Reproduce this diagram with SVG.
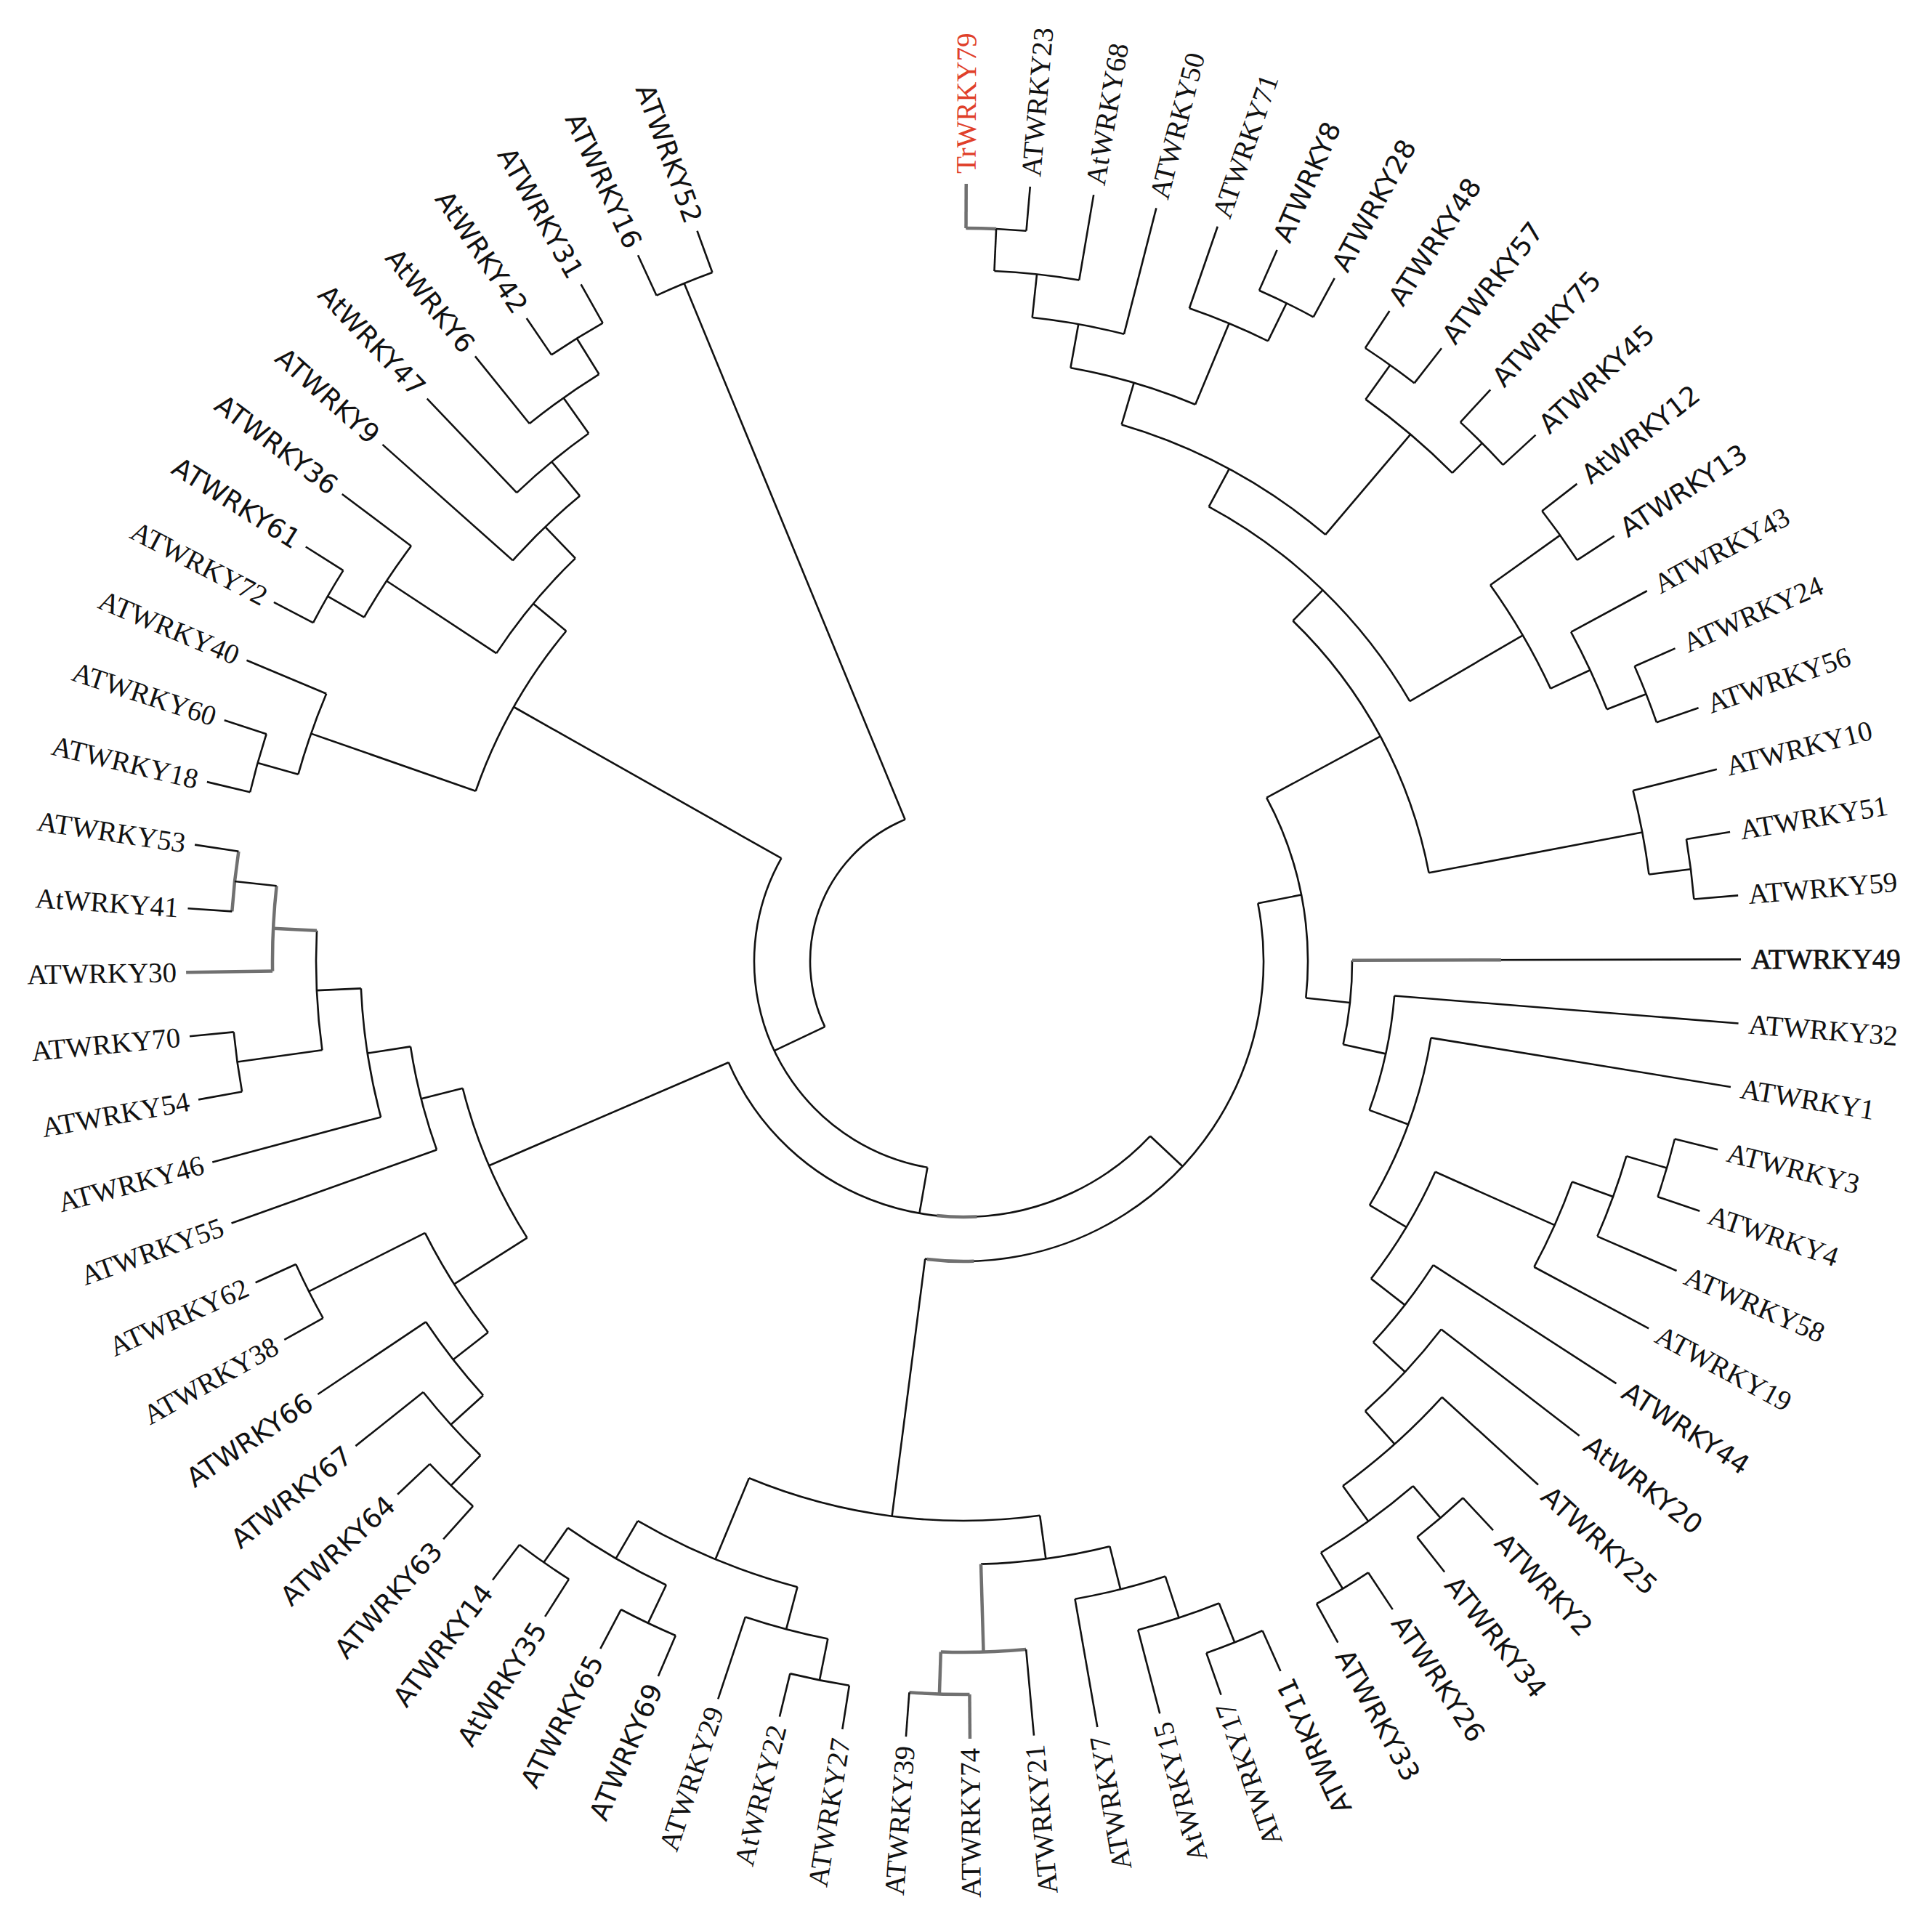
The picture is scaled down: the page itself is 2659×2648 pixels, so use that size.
<svg xmlns="http://www.w3.org/2000/svg" width="2659" height="2648" viewBox="0 0 2659 2648">
<style>
#connectors line,#connectors circle{fill:none;stroke:#111;stroke-width:2.6}
#connectors .g{stroke:#707070;stroke-width:4.5}
text{font-size:39px;fill:#111}
.r{font-family:"Liberation Serif","Times New Roman",serif}
.s{font-family:"DejaVu Sans",Verdana,sans-serif;font-size:37px}
.f{text-anchor:end}
.red{fill:#e0402a}
.b{stroke:#111;stroke-width:0.7}
</style>
<rect width="2659" height="2648" fill="#fff"/>
<g transform="translate(1326 1323)">
<g id="connectors">
<circle r="1009" stroke-dasharray="83.12 99999" transform="rotate(-89.8)"/>
<circle class="g" r="1009" stroke-dasharray="41.6 99999" transform="rotate(-89.8)"/>
<line class="g" x1="1009" x2="1070" transform="rotate(-89.8)"/>
<line x1="1009" x2="1070" transform="rotate(-85.08)"/>
<circle r="951" stroke-dasharray="117.51 99999" transform="rotate(-87.44)"/>
<line x1="951" x2="1009" transform="rotate(-87.44)"/>
<line x1="951" x2="1070" transform="rotate(-80.36)"/>
<circle r="891" stroke-dasharray="128.45 99999" transform="rotate(-83.9)"/>
<line x1="891" x2="951" transform="rotate(-83.9)"/>
<line x1="891" x2="1070" transform="rotate(-75.64)"/>
<circle r="1009" stroke-dasharray="83.12 99999" transform="rotate(-66.21)"/>
<line x1="1009" x2="1070" transform="rotate(-66.21)"/>
<line x1="1009" x2="1070" transform="rotate(-61.49)"/>
<circle r="951" stroke-dasharray="117.35 99999" transform="rotate(-70.92)"/>
<line x1="951" x2="1070" transform="rotate(-70.92)"/>
<line x1="951" x2="1009" transform="rotate(-63.85)"/>
<circle r="830" stroke-dasharray="179.34 99999" transform="rotate(-79.77)"/>
<line x1="830" x2="891" transform="rotate(-79.77)"/>
<line x1="830" x2="951" transform="rotate(-67.39)"/>
<circle r="1009" stroke-dasharray="83.12 99999" transform="rotate(-56.77)"/>
<line x1="1009" x2="1070" transform="rotate(-56.77)"/>
<line x1="1009" x2="1070" transform="rotate(-52.05)"/>
<circle r="1009" stroke-dasharray="83.12 99999" transform="rotate(-47.33)"/>
<line x1="1009" x2="1070" transform="rotate(-47.33)"/>
<line x1="1009" x2="1070" transform="rotate(-42.61)"/>
<circle r="951" stroke-dasharray="156.69 99999" transform="rotate(-54.41)"/>
<line x1="951" x2="1009" transform="rotate(-54.41)"/>
<line x1="951" x2="1009" transform="rotate(-44.97)"/>
<circle r="770" stroke-dasharray="321.06 99999" transform="rotate(-73.58)"/>
<line x1="770" x2="830" transform="rotate(-73.58)"/>
<line x1="770" x2="951" transform="rotate(-49.69)"/>
<circle r="1009" stroke-dasharray="83.12 99999" transform="rotate(-37.89)"/>
<line x1="1009" x2="1070" transform="rotate(-37.89)"/>
<line x1="1009" x2="1070" transform="rotate(-33.17)"/>
<circle r="1009" stroke-dasharray="82.94 99999" transform="rotate(-23.73)"/>
<line x1="1009" x2="1070" transform="rotate(-23.73)"/>
<line x1="1009" x2="1070" transform="rotate(-19.02)"/>
<circle r="951" stroke-dasharray="117.35 99999" transform="rotate(-28.45)"/>
<line x1="951" x2="1070" transform="rotate(-28.45)"/>
<line x1="951" x2="1009" transform="rotate(-21.38)"/>
<circle r="891" stroke-dasharray="165 99999" transform="rotate(-35.53)"/>
<line x1="891" x2="1009" transform="rotate(-35.53)"/>
<line x1="891" x2="951" transform="rotate(-24.92)"/>
<circle r="711" stroke-dasharray="389.78 99999" transform="rotate(-61.64)"/>
<line x1="711" x2="770" transform="rotate(-61.64)"/>
<line x1="711" x2="891" transform="rotate(-30.23)"/>
<circle r="1009" stroke-dasharray="83.12 99999" transform="rotate(-9.58)"/>
<line x1="1009" x2="1070" transform="rotate(-9.58)"/>
<line x1="1009" x2="1070" transform="rotate(-4.86)"/>
<circle r="951" stroke-dasharray="117.51 99999" transform="rotate(-14.3)"/>
<line x1="951" x2="1070" transform="rotate(-14.3)"/>
<line x1="951" x2="1009" transform="rotate(-7.22)"/>
<circle r="652" stroke-dasharray="400.33 99999" transform="rotate(-45.94)"/>
<line x1="652" x2="711" transform="rotate(-45.94)"/>
<line x1="652" x2="951" transform="rotate(-10.76)"/>
<circle r="1009" stroke-dasharray="83.12 99999" transform="rotate(14.02)"/>
<line x1="1009" x2="1070" transform="rotate(14.02)"/>
<line x1="1009" x2="1070" transform="rotate(18.74)"/>
<circle r="951" stroke-dasharray="117.51 99999" transform="rotate(16.38)"/>
<line x1="951" x2="1009" transform="rotate(16.38)"/>
<line x1="951" x2="1070" transform="rotate(23.46)"/>
<circle r="891" stroke-dasharray="128.45 99999" transform="rotate(19.92)"/>
<line x1="891" x2="951" transform="rotate(19.92)"/>
<line x1="891" x2="1070" transform="rotate(28.18)"/>
<circle r="1009" stroke-dasharray="83.12 99999" transform="rotate(47.05)"/>
<line x1="1009" x2="1070" transform="rotate(47.05)"/>
<line x1="1009" x2="1070" transform="rotate(51.77)"/>
<circle r="1009" stroke-dasharray="83.12 99999" transform="rotate(56.49)"/>
<line x1="1009" x2="1070" transform="rotate(56.49)"/>
<line x1="1009" x2="1070" transform="rotate(61.21)"/>
<circle r="951" stroke-dasharray="156.69 99999" transform="rotate(49.41)"/>
<line x1="951" x2="1009" transform="rotate(49.41)"/>
<line x1="951" x2="1009" transform="rotate(58.85)"/>
<circle r="891" stroke-dasharray="183.5 99999" transform="rotate(42.33)"/>
<line x1="891" x2="1070" transform="rotate(42.33)"/>
<line x1="891" x2="951" transform="rotate(54.13)"/>
<circle r="830" stroke-dasharray="153.84 99999" transform="rotate(37.61)"/>
<line x1="830" x2="1070" transform="rotate(37.61)"/>
<line x1="830" x2="891" transform="rotate(48.23)"/>
<circle r="770" stroke-dasharray="134.79 99999" transform="rotate(32.89)"/>
<line x1="770" x2="1070" transform="rotate(32.89)"/>
<line x1="770" x2="830" transform="rotate(42.92)"/>
<circle r="711" stroke-dasharray="171.99 99999" transform="rotate(24.05)"/>
<line x1="711" x2="891" transform="rotate(24.05)"/>
<line x1="711" x2="770" transform="rotate(37.91)"/>
<circle r="652" stroke-dasharray="246.71 99999" transform="rotate(9.3)"/>
<line x1="652" x2="1070" transform="rotate(9.3)"/>
<line x1="652" x2="711" transform="rotate(30.98)"/>
<circle r="595" stroke-dasharray="161.59 99999" transform="rotate(4.58)"/>
<line x1="595" x2="1070" transform="rotate(4.58)"/>
<line x1="595" x2="652" transform="rotate(20.14)"/>
<circle r="535" stroke-dasharray="116.72 99999" transform="rotate(-0.14)"/>
<line x1="535" x2="1070" transform="rotate(-0.14)"/>
<line class="g" x1="535" x2="740" transform="rotate(-0.14)"/>
<line x1="535" x2="595" transform="rotate(12.36)"/>
<circle r="474" stroke-dasharray="285.08 99999" transform="rotate(-28.35)"/>
<line x1="474" x2="652" transform="rotate(-28.35)"/>
<line x1="474" x2="535" transform="rotate(6.11)"/>
<circle r="1009" stroke-dasharray="83.12 99999" transform="rotate(65.93)"/>
<line x1="1009" x2="1070" transform="rotate(65.93)"/>
<line x1="1009" x2="1070" transform="rotate(70.65)"/>
<circle r="951" stroke-dasharray="117.51 99999" transform="rotate(68.29)"/>
<line x1="951" x2="1009" transform="rotate(68.29)"/>
<line x1="951" x2="1070" transform="rotate(75.37)"/>
<circle r="891" stroke-dasharray="128.3 99999" transform="rotate(71.83)"/>
<line x1="891" x2="951" transform="rotate(71.83)"/>
<line x1="891" x2="1070" transform="rotate(80.08)"/>
<circle class="g" r="1009" stroke-dasharray="83.12 99999" transform="rotate(89.52)"/>
<line class="g" x1="1009" x2="1070" transform="rotate(89.52)"/>
<line x1="1009" x2="1070" transform="rotate(94.24)"/>
<circle class="g" r="951" stroke-dasharray="117.51 99999" transform="rotate(84.8)"/>
<line x1="951" x2="1070" transform="rotate(84.8)"/>
<line class="g" x1="951" x2="1009" transform="rotate(91.88)"/>
<circle r="830" stroke-dasharray="179.34 99999" transform="rotate(75.96)"/>
<line x1="830" x2="891" transform="rotate(75.96)"/>
<line class="g" x1="830" x2="951" transform="rotate(88.34)"/>
<circle r="1009" stroke-dasharray="83.12 99999" transform="rotate(98.96)"/>
<line x1="1009" x2="1070" transform="rotate(98.96)"/>
<line x1="1009" x2="1070" transform="rotate(103.68)"/>
<circle r="951" stroke-dasharray="117.51 99999" transform="rotate(101.32)"/>
<line x1="951" x2="1009" transform="rotate(101.32)"/>
<line x1="951" x2="1070" transform="rotate(108.4)"/>
<circle r="1009" stroke-dasharray="83.12 99999" transform="rotate(113.12)"/>
<line x1="1009" x2="1070" transform="rotate(113.12)"/>
<line x1="1009" x2="1070" transform="rotate(117.84)"/>
<circle r="1009" stroke-dasharray="82.94 99999" transform="rotate(122.56)"/>
<line x1="1009" x2="1070" transform="rotate(122.56)"/>
<line x1="1009" x2="1070" transform="rotate(127.27)"/>
<circle r="951" stroke-dasharray="156.69 99999" transform="rotate(115.48)"/>
<line x1="951" x2="1009" transform="rotate(115.48)"/>
<line x1="951" x2="1009" transform="rotate(124.92)"/>
<circle r="891" stroke-dasharray="238.55 99999" transform="rotate(104.86)"/>
<line x1="891" x2="951" transform="rotate(104.86)"/>
<line x1="891" x2="951" transform="rotate(120.2)"/>
<circle r="770" stroke-dasharray="408.28 99999" transform="rotate(82.15)"/>
<line x1="770" x2="830" transform="rotate(82.15)"/>
<line x1="770" x2="891" transform="rotate(112.53)"/>
<circle r="413" stroke-dasharray="781.8 99999" transform="rotate(-11.12)"/>
<circle class="g" r="413" stroke-dasharray="64.9 99999" transform="rotate(88)"/>
<line x1="413" x2="474" transform="rotate(-11.12)"/>
<line x1="413" x2="770" transform="rotate(97.34)"/>
<circle r="1009" stroke-dasharray="83.12 99999" transform="rotate(131.99)"/>
<line x1="1009" x2="1070" transform="rotate(131.99)"/>
<line x1="1009" x2="1070" transform="rotate(136.71)"/>
<circle r="951" stroke-dasharray="117.51 99999" transform="rotate(134.35)"/>
<line x1="951" x2="1009" transform="rotate(134.35)"/>
<line x1="951" x2="1070" transform="rotate(141.43)"/>
<circle r="891" stroke-dasharray="128.45 99999" transform="rotate(137.89)"/>
<line x1="891" x2="951" transform="rotate(137.89)"/>
<line x1="891" x2="1070" transform="rotate(146.15)"/>
<circle r="1009" stroke-dasharray="83.12 99999" transform="rotate(150.87)"/>
<line x1="1009" x2="1070" transform="rotate(150.87)"/>
<line x1="1009" x2="1070" transform="rotate(155.59)"/>
<circle r="830" stroke-dasharray="162.39 99999" transform="rotate(142.02)"/>
<line x1="830" x2="891" transform="rotate(142.02)"/>
<line x1="830" x2="1009" transform="rotate(153.23)"/>
<circle r="1009" stroke-dasharray="82.94 99999" transform="rotate(169.75)"/>
<line x1="1009" x2="1070" transform="rotate(169.75)"/>
<line x1="1009" x2="1070" transform="rotate(174.46)"/>
<circle class="g" r="1009" stroke-dasharray="83.12 99999" transform="rotate(183.9)"/>
<line x1="1009" x2="1070" transform="rotate(183.9)"/>
<line x1="1009" x2="1070" transform="rotate(188.62)"/>
<circle class="g" r="951" stroke-dasharray="117.51 99999" transform="rotate(179.18)"/>
<line class="g" x1="951" x2="1070" transform="rotate(179.18)"/>
<line x1="951" x2="1009" transform="rotate(186.26)"/>
<circle r="891" stroke-dasharray="165 99999" transform="rotate(172.11)"/>
<line x1="891" x2="1009" transform="rotate(172.11)"/>
<line class="g" x1="891" x2="951" transform="rotate(182.72)"/>
<circle r="830" stroke-dasharray="179.48 99999" transform="rotate(165.03)"/>
<line x1="830" x2="1070" transform="rotate(165.03)"/>
<line x1="830" x2="891" transform="rotate(177.42)"/>
<circle r="770" stroke-dasharray="146.75 99999" transform="rotate(160.31)"/>
<line x1="770" x2="1070" transform="rotate(160.31)"/>
<line x1="770" x2="830" transform="rotate(171.23)"/>
<circle r="711" stroke-dasharray="225.1 99999" transform="rotate(147.63)"/>
<line x1="711" x2="830" transform="rotate(147.63)"/>
<line x1="711" x2="770" transform="rotate(165.77)"/>
<circle r="352" stroke-dasharray="697.85 99999" transform="rotate(43.11)"/>
<circle class="g" r="352" stroke-dasharray="55.3 99999" transform="rotate(87)"/>
<line x1="352" x2="413" transform="rotate(43.11)"/>
<line x1="352" x2="711" transform="rotate(156.7)"/>
<circle r="1009" stroke-dasharray="83.12 99999" transform="rotate(193.34)"/>
<line x1="1009" x2="1070" transform="rotate(193.34)"/>
<line x1="1009" x2="1070" transform="rotate(198.06)"/>
<circle r="951" stroke-dasharray="117.51 99999" transform="rotate(195.7)"/>
<line x1="951" x2="1009" transform="rotate(195.7)"/>
<line x1="951" x2="1070" transform="rotate(202.78)"/>
<circle r="1009" stroke-dasharray="83.12 99999" transform="rotate(207.5)"/>
<line x1="1009" x2="1070" transform="rotate(207.5)"/>
<line x1="1009" x2="1070" transform="rotate(212.22)"/>
<circle r="951" stroke-dasharray="117.51 99999" transform="rotate(209.86)"/>
<line x1="951" x2="1009" transform="rotate(209.86)"/>
<line x1="951" x2="1070" transform="rotate(216.94)"/>
<circle r="1009" stroke-dasharray="83.12 99999" transform="rotate(235.81)"/>
<line x1="1009" x2="1070" transform="rotate(235.81)"/>
<line x1="1009" x2="1070" transform="rotate(240.53)"/>
<circle r="951" stroke-dasharray="117.51 99999" transform="rotate(231.09)"/>
<line x1="951" x2="1070" transform="rotate(231.09)"/>
<line x1="951" x2="1009" transform="rotate(238.17)"/>
<circle r="891" stroke-dasharray="128.45 99999" transform="rotate(226.37)"/>
<line x1="891" x2="1070" transform="rotate(226.37)"/>
<line x1="891" x2="951" transform="rotate(234.63)"/>
<circle r="830" stroke-dasharray="128.2 99999" transform="rotate(221.65)"/>
<line x1="830" x2="1070" transform="rotate(221.65)"/>
<line x1="830" x2="891" transform="rotate(230.5)"/>
<circle r="770" stroke-dasharray="170.41 99999" transform="rotate(213.4)"/>
<line x1="770" x2="951" transform="rotate(213.4)"/>
<line x1="770" x2="830" transform="rotate(226.08)"/>
<circle r="711" stroke-dasharray="254.39 99999" transform="rotate(199.24)"/>
<line x1="711" x2="951" transform="rotate(199.24)"/>
<line x1="711" x2="770" transform="rotate(219.74)"/>
<circle r="288" stroke-dasharray="550.81 99999" transform="rotate(99.91)"/>
<line x1="288" x2="352" transform="rotate(99.91)"/>
<line x1="288" x2="711" transform="rotate(209.49)"/>
<circle r="1009" stroke-dasharray="83.12 99999" transform="rotate(245.25)"/>
<line x1="1009" x2="1070" transform="rotate(245.25)"/>
<line x1="1009" x2="1070" transform="rotate(249.97)"/>
<circle r="211" stroke-dasharray="342.15 99999" transform="rotate(154.7)"/>
<line x1="211" x2="288" transform="rotate(154.7)"/>
<line x1="211" x2="1009" transform="rotate(247.61)"/>
</g>
<g id="n-TrWRKY79"><text class="r red" transform="rotate(-89.8)" x="1084" y="13">TrWRKY79</text></g>
<g id="n-ATWRKY23"><text class="r" transform="rotate(-85.08)" x="1084" y="13">ATWRKY23</text></g>
<g id="n-AtWRKY68"><text class="r" transform="rotate(-80.36)" x="1084" y="13">AtWRKY68</text></g>
<g id="n-ATWRKY50"><text class="r" transform="rotate(-75.64)" x="1084" y="13">ATWRKY50</text></g>
<g id="n-ATWRKY71"><text class="r" transform="rotate(-70.92)" x="1084" y="13">ATWRKY71</text></g>
<g id="n-ATWRKY8"><text class="s" transform="rotate(-66.21)" x="1084" y="13">ATWRKY8</text></g>
<g id="n-ATWRKY28"><text class="s" transform="rotate(-61.49)" x="1084" y="13">ATWRKY28</text></g>
<g id="n-ATWRKY48"><text class="s" transform="rotate(-56.77)" x="1084" y="13">ATWRKY48</text></g>
<g id="n-ATWRKY57"><text class="s" transform="rotate(-52.05)" x="1084" y="13">ATWRKY57</text></g>
<g id="n-ATWRKY75"><text class="s" transform="rotate(-47.33)" x="1084" y="13">ATWRKY75</text></g>
<g id="n-ATWRKY45"><text class="s" transform="rotate(-42.61)" x="1084" y="13">ATWRKY45</text></g>
<g id="n-AtWRKY12"><text class="s" transform="rotate(-37.89)" x="1084" y="13">AtWRKY12</text></g>
<g id="n-ATWRKY13"><text class="s" transform="rotate(-33.17)" x="1084" y="13">ATWRKY13</text></g>
<g id="n-ATWRKY43"><text class="r" transform="rotate(-28.45)" x="1084" y="13">ATWRKY43</text></g>
<g id="n-ATWRKY24"><text class="r" transform="rotate(-23.73)" x="1084" y="13">ATWRKY24</text></g>
<g id="n-ATWRKY56"><text class="r" transform="rotate(-19.02)" x="1084" y="13">ATWRKY56</text></g>
<g id="n-ATWRKY10"><text class="r" transform="rotate(-14.3)" x="1084" y="13">ATWRKY10</text></g>
<g id="n-ATWRKY51"><text class="r" transform="rotate(-9.58)" x="1084" y="13">ATWRKY51</text></g>
<g id="n-ATWRKY59"><text class="r" transform="rotate(-4.86)" x="1084" y="13">ATWRKY59</text></g>
<g id="n-ATWRKY49"><text class="r b" transform="rotate(-0.14)" x="1084" y="13">ATWRKY49</text></g>
<g id="n-ATWRKY32"><text class="r" transform="rotate(4.58)" x="1084" y="13">ATWRKY32</text></g>
<g id="n-ATWRKY1"><text class="r" transform="rotate(9.3)" x="1084" y="13">ATWRKY1</text></g>
<g id="n-ATWRKY3"><text class="r" transform="rotate(14.02)" x="1084" y="13">ATWRKY3</text></g>
<g id="n-ATWRKY4"><text class="r" transform="rotate(18.74)" x="1084" y="13">ATWRKY4</text></g>
<g id="n-ATWRKY58"><text class="r" transform="rotate(23.46)" x="1084" y="13">ATWRKY58</text></g>
<g id="n-ATWRKY19"><text class="r" transform="rotate(28.18)" x="1084" y="13">ATWRKY19</text></g>
<g id="n-ATWRKY44"><text class="s" transform="rotate(32.89)" x="1084" y="13">ATWRKY44</text></g>
<g id="n-AtWRKY20"><text class="s" transform="rotate(37.61)" x="1084" y="13">AtWRKY20</text></g>
<g id="n-ATWRKY25"><text class="s" transform="rotate(42.33)" x="1084" y="13">ATWRKY25</text></g>
<g id="n-ATWRKY2"><text class="s" transform="rotate(47.05)" x="1084" y="13">ATWRKY2</text></g>
<g id="n-ATWRKY34"><text class="s" transform="rotate(51.77)" x="1084" y="13">ATWRKY34</text></g>
<g id="n-ATWRKY26"><text class="s" transform="rotate(56.49)" x="1084" y="13">ATWRKY26</text></g>
<g id="n-ATWRKY33"><text class="s" transform="rotate(61.21)" x="1084" y="13">ATWRKY33</text></g>
<g id="n-ATWRKY11"><text class="s f" transform="rotate(-114.07)" x="-1083" y="13">ATWRKY11</text></g>
<g id="n-ATWRKY17"><text class="r f" transform="rotate(-109.35)" x="-1083" y="13">ATWRKY17</text></g>
<g id="n-AtWRKY15"><text class="r f" transform="rotate(-104.63)" x="-1083" y="13">AtWRKY15</text></g>
<g id="n-ATWRKY7"><text class="r f" transform="rotate(-99.92)" x="-1083" y="13">ATWRKY7</text></g>
<g id="n-ATWRKY21"><text class="r f" transform="rotate(-95.2)" x="-1083" y="13">ATWRKY21</text></g>
<g id="n-ATWRKY74"><text class="r f" transform="rotate(-90.48)" x="-1083" y="13">ATWRKY74</text></g>
<g id="n-ATWRKY39"><text class="r f" transform="rotate(-85.76)" x="-1083" y="13">ATWRKY39</text></g>
<g id="n-ATWRKY27"><text class="r f" transform="rotate(-81.04)" x="-1083" y="13">ATWRKY27</text></g>
<g id="n-AtWRKY22"><text class="r f" transform="rotate(-76.32)" x="-1083" y="13">AtWRKY22</text></g>
<g id="n-ATWRKY29"><text class="r f" transform="rotate(-71.6)" x="-1083" y="13">ATWRKY29</text></g>
<g id="n-ATWRKY69"><text class="s f" transform="rotate(-66.88)" x="-1083" y="13">ATWRKY69</text></g>
<g id="n-ATWRKY65"><text class="s f" transform="rotate(-62.16)" x="-1083" y="13">ATWRKY65</text></g>
<g id="n-AtWRKY35"><text class="s f" transform="rotate(-57.44)" x="-1083" y="13">AtWRKY35</text></g>
<g id="n-ATWRKY14"><text class="s f" transform="rotate(-52.73)" x="-1083" y="13">ATWRKY14</text></g>
<g id="n-ATWRKY63"><text class="s f" transform="rotate(-48.01)" x="-1083" y="13">ATWRKY63</text></g>
<g id="n-ATWRKY64"><text class="s f" transform="rotate(-43.29)" x="-1083" y="13">ATWRKY64</text></g>
<g id="n-ATWRKY67"><text class="s f" transform="rotate(-38.57)" x="-1083" y="13">ATWRKY67</text></g>
<g id="n-ATWRKY66"><text class="s f" transform="rotate(-33.85)" x="-1083" y="13">ATWRKY66</text></g>
<g id="n-ATWRKY38"><text class="r f" transform="rotate(-29.13)" x="-1083" y="13">ATWRKY38</text></g>
<g id="n-ATWRKY62"><text class="r f" transform="rotate(-24.41)" x="-1083" y="13">ATWRKY62</text></g>
<g id="n-ATWRKY55"><text class="r f" transform="rotate(-19.69)" x="-1083" y="13">ATWRKY55</text></g>
<g id="n-ATWRKY46"><text class="r f" transform="rotate(-14.97)" x="-1083" y="13">ATWRKY46</text></g>
<g id="n-ATWRKY54"><text class="r f" transform="rotate(-10.25)" x="-1083" y="13">ATWRKY54</text></g>
<g id="n-ATWRKY70"><text class="r f" transform="rotate(-5.54)" x="-1083" y="13">ATWRKY70</text></g>
<g id="n-ATWRKY30"><text class="r f" transform="rotate(-0.82)" x="-1083" y="13">ATWRKY30</text></g>
<g id="n-AtWRKY41"><text class="r f" transform="rotate(3.9)" x="-1083" y="13">AtWRKY41</text></g>
<g id="n-ATWRKY53"><text class="r f" transform="rotate(8.62)" x="-1083" y="13">ATWRKY53</text></g>
<g id="n-ATWRKY18"><text class="r f" transform="rotate(13.34)" x="-1083" y="13">ATWRKY18</text></g>
<g id="n-ATWRKY60"><text class="r f" transform="rotate(18.06)" x="-1083" y="13">ATWRKY60</text></g>
<g id="n-ATWRKY40"><text class="r f" transform="rotate(22.78)" x="-1083" y="13">ATWRKY40</text></g>
<g id="n-ATWRKY72"><text class="r f" transform="rotate(27.5)" x="-1083" y="13">ATWRKY72</text></g>
<g id="n-ATWRKY61"><text class="s f" transform="rotate(32.22)" x="-1083" y="13">ATWRKY61</text></g>
<g id="n-ATWRKY36"><text class="s f" transform="rotate(36.94)" x="-1083" y="13">ATWRKY36</text></g>
<g id="n-ATWRKY9"><text class="s f" transform="rotate(41.65)" x="-1083" y="13">ATWRKY9</text></g>
<g id="n-AtWRKY47"><text class="s f" transform="rotate(46.37)" x="-1083" y="13">AtWRKY47</text></g>
<g id="n-AtWRKY6"><text class="s f" transform="rotate(51.09)" x="-1083" y="13">AtWRKY6</text></g>
<g id="n-AtWRKY42"><text class="s f" transform="rotate(55.81)" x="-1083" y="13">AtWRKY42</text></g>
<g id="n-ATWRKY31"><text class="s f" transform="rotate(60.53)" x="-1083" y="13">ATWRKY31</text></g>
<g id="n-ATWRKY16"><text class="s f" transform="rotate(65.25)" x="-1083" y="13">ATWRKY16</text></g>
<g id="n-ATWRKY52"><text class="s f" transform="rotate(69.97)" x="-1083" y="13">ATWRKY52</text></g>
</g>
</svg>
